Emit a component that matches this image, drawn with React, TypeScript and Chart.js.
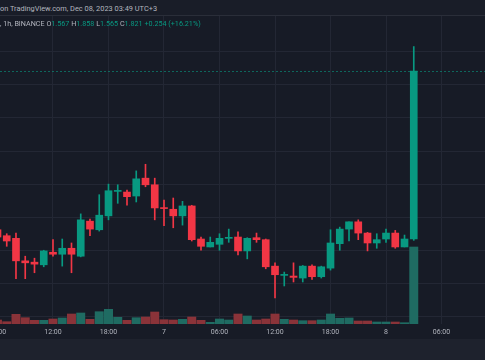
import { useEffect, useRef } from 'react';
import { Chart, registerables } from 'chart.js';

Chart.register(...registerables);

// Hour offsets from Dec 7 00:00 (1h candles, BINANCE)
const HOURS = [-18, -17, -16, -15, -14, -13, -12, -11, -10, -9, -8, -7, -6, -5, -4, -3, -2, -1, 0, 1, 2, 3, 4, 5, 6, 7, 8, 9, 10, 11, 12, 13, 14, 15, 16, 17, 18, 19, 20, 21, 22, 23, 24, 25, 26, 27];

const OPEN = [1.581, 1.572, 1.568, 1.534, 1.532, 1.528, 1.547, 1.544, 1.553, 1.541, 1.594, 1.581, 1.602, 1.639, 1.638, 1.632, 1.659, 1.649, 1.614, 1.612, 1.602, 1.617, 1.567, 1.555, 1.559, 1.568, 1.570, 1.549, 1.569, 1.566, 1.526, 1.512, 1.511, 1.508, 1.526, 1.510, 1.523, 1.560, 1.582, 1.593, 1.576, 1.561, 1.567, 1.576, 1.555, 1.567];
const HIGH = [1.584, 1.575, 1.576, 1.541, 1.538, 1.550, 1.566, 1.567, 1.561, 1.605, 1.597, 1.634, 1.650, 1.649, 1.641, 1.670, 1.680, 1.659, 1.626, 1.629, 1.624, 1.618, 1.570, 1.570, 1.575, 1.582, 1.578, 1.569, 1.576, 1.567, 1.531, 1.517, 1.531, 1.527, 1.528, 1.526, 1.581, 1.585, 1.593, 1.596, 1.577, 1.575, 1.582, 1.580, 1.573, 1.858];
const LOW = [1.566, 1.556, 1.507, 1.507, 1.516, 1.525, 1.541, 1.526, 1.516, 1.540, 1.572, 1.579, 1.596, 1.621, 1.618, 1.623, 1.646, 1.596, 1.587, 1.584, 1.588, 1.564, 1.550, 1.555, 1.550, 1.562, 1.543, 1.537, 1.562, 1.522, 1.478, 1.496, 1.502, 1.502, 1.506, 1.508, 1.520, 1.550, 1.564, 1.566, 1.549, 1.553, 1.562, 1.553, 1.555, 1.565];
const CLOSE = [1.570, 1.564, 1.534, 1.531, 1.529, 1.549, 1.544, 1.553, 1.544, 1.596, 1.582, 1.603, 1.640, 1.640, 1.631, 1.658, 1.649, 1.614, 1.613, 1.602, 1.617, 1.566, 1.556, 1.562, 1.568, 1.569, 1.549, 1.568, 1.566, 1.525, 1.513, 1.513, 1.509, 1.526, 1.510, 1.525, 1.561, 1.582, 1.593, 1.576, 1.561, 1.566, 1.576, 1.555, 1.567, 1.821];
const VOLUME = [40, 23, 97, 63, 37, 37, 50, 60, 100, 110, 47, 123, 147, 67, 37, 63, 70, 120, 43, 40, 47, 70, 37, 17, 50, 40, 100, 80, 40, 50, 100, 47, 40, 33, 33, 40, 100, 57, 60, 30, 30, 20, 20, 20, 13, 770];

const TICK_HOURS = [-18, -12, -6, 0, 6, 12, 18, 24, 30];
const TICK_LABELS = ['06:00', '12:00', '18:00', '7', '06:00', '12:00', '18:00', '8', '06:00'];
const GRID_PRICES = [1.45, 1.5, 1.55, 1.6, 1.65, 1.7, 1.75, 1.8, 1.85];

// visible window
const X_MIN = -19.89;
const X_MAX = 34.7;
const Y_MIN = 1.4385;
const Y_MAX = 1.9042;
const VOL_MAX = 3080;

const UP = '#089981';
const DOWN = '#f23645';
const VOL_UP = '#1f6b62';
const VOL_DOWN = '#8a3339';
const GRID = '#232734';
const BG = '#171b26';
const TEXT = '#b2b5be';

const priceLine = {
  id: 'priceLine',
  beforeDatasetsDraw(chart: any) {
    const { ctx, chartArea, scales } = chart;
    const y = Math.round(scales.y.getPixelForValue(CLOSE[CLOSE.length - 1])) + 0.5;
    ctx.save();
    ctx.strokeStyle = 'rgba(8,153,129,0.6)';
    ctx.lineWidth = 1;
    ctx.setLineDash([2, 2]);
    ctx.beginPath();
    ctx.moveTo(Math.round(chartArea.left), y);
    ctx.lineTo(chartArea.right, y);
    ctx.stroke();
    ctx.restore();
  },
};

export default function App() {
  const ref = useRef<HTMLCanvasElement>(null);

  useEffect(() => {
    document.body.style.margin = '0';
    document.body.style.background = BG;
    const up = CLOSE.map((c, i) => c >= OPEN[i]);
    const chart = new Chart(ref.current as HTMLCanvasElement, {
      type: 'bar',
      data: {
        datasets: [
          {
            label: 'body',
            data: HOURS.map((h, i) => ({ x: h, y: [OPEN[i], CLOSE[i]] })) as any,
            backgroundColor: up.map((u) => (u ? UP : DOWN)),
            borderWidth: 0,
            barThickness: 7,
            minBarLength: 1,
            grouped: false,
            order: 1,
            yAxisID: 'y',
          },
          {
            label: 'wick',
            data: HOURS.map((h, i) => ({ x: h, y: [LOW[i], HIGH[i]] })) as any,
            backgroundColor: up.map((u) => (u ? UP : DOWN)),
            borderWidth: 0,
            barThickness: 1,
            grouped: false,
            order: 2,
            yAxisID: 'y',
          },
          {
            label: 'volume',
            data: HOURS.map((h, i) => ({ x: h, y: VOLUME[i] })) as any,
            backgroundColor: up.map((u) => (u ? VOL_UP : VOL_DOWN)),
            borderWidth: 0,
            barThickness: 8.3,
            grouped: false,
            order: 3,
            yAxisID: 'yv',
          },
        ],
      },
      options: {
        animation: false,
        responsive: false,
        events: [],
        layout: { padding: 0 },
        plugins: { legend: { display: false }, tooltip: { enabled: false } },
        scales: {
          x: {
            type: 'linear',
            min: X_MIN,
            max: X_MAX,
            offset: false,
            grid: { color: GRID, drawTicks: false, offset: false },
            border: { display: false },
            afterBuildTicks: (s: any) => {
              s.ticks = TICK_HOURS.map((v) => ({ value: v }));
            },
            afterFit: (s: any) => {
              s.height = 15;
            },
            ticks: {
              color: TEXT,
              font: { size: 7, family: 'Roboto' },
              padding: 4,
              maxRotation: 0,
              autoSkip: false,
              callback: (_v: any, i: number) => TICK_LABELS[i],
            },
          },
          y: {
            position: 'right',
            min: Y_MIN,
            max: Y_MAX,
            grid: { color: GRID, drawTicks: false },
            border: { display: false },
            ticks: { display: false },
            afterBuildTicks: (s: any) => {
              s.ticks = GRID_PRICES.map((v) => ({ value: v }));
            },
            afterFit: (s: any) => {
              s.width = 0;
            },
          },
          yv: { display: false, min: 0, max: VOL_MAX },
        },
      } as any,
      plugins: [priceLine],
    });
    return () => chart.destroy();
  }, []);

  const label = { color: TEXT };
  const val = { color: UP };

  return (
    <div style={{ position: 'relative', width: 485, height: 360, overflow: 'hidden', background: '#1e222d', fontFamily: 'Roboto, sans-serif' }}>
      <div style={{ position: 'absolute', left: 0, top: 0, width: 485, height: 15, background: '#191d28', borderBottom: '1px solid #2a2e39' }} />
      <div style={{ position: 'absolute', left: -20, top: 16, width: 505, height: 323, background: BG }}>
        <canvas ref={ref} width={505} height={323} style={{ width: 505, height: 323, display: 'block' }} />
      </div>
      <div style={{ position: 'absolute', left: 0, top: 4, fontSize: 7.4, lineHeight: '10px', color: TEXT, whiteSpace: 'nowrap' }}>
        on TradingView.com, Dec 08, 2023 03:49 UTC+3
      </div>
      <div style={{ position: 'absolute', left: 0, top: 19, fontSize: 7.2, lineHeight: '10px', whiteSpace: 'nowrap' }}>
        <span style={label}>, 1h, BINANCE O</span>
        <span style={val}>1.567</span>
        <span style={label}> H</span>
        <span style={val}>1.858</span>
        <span style={label}> L</span>
        <span style={val}>1.565</span>
        <span style={label}> C</span>
        <span style={val}>1.821</span>
        <span style={val}> +0.254 (+16.21%)</span>
      </div>
    </div>
  );
}
